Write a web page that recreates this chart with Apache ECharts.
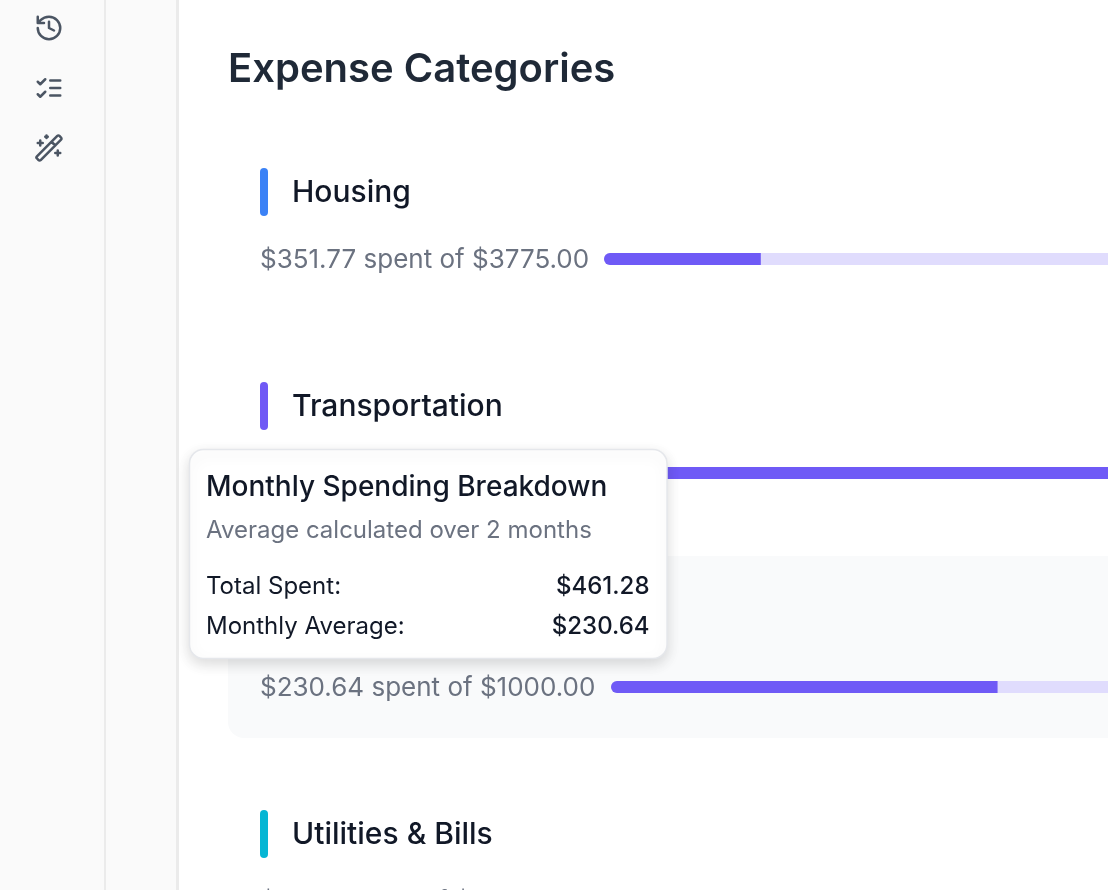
<!DOCTYPE html>
<html><head><meta charset="utf-8">
<style>html,body{margin:0;padding:0;background:#fff}#c{width:1108px;height:890px}</style>
<script src="https://cdn.jsdelivr.net/npm/echarts@6/dist/echarts.min.js"></script>
</head><body><div id="c"></div>
<script>
const pageTitle = 'Expense Categories';
const categories = ['Housing', 'Transportation', 'Food & Dining'];
const spent = [351.77, 1240.0, 230.64];
const budget = [3775.0, 1500.0, 1000.0];
const captions = ['$351.77 spent of $3775.00', '$230.64 spent of $1000.00'];
const lastCategory = 'Utilities & Bills';
const lastCaption = '$111.17 spent of $500.00';
const tipTitle = 'Monthly Spending Breakdown';
const tipSub = 'Average calculated over 2 months';
const tipRows = [['Total Spent:', '$461.28'], ['Monthly Average:', '$230.64']];

const FILL = '#6f5af6', TRACK = '#e0dcfd', INK = '#111827', GREY = '#6b7280';
const barLeft = [604, 608, 611], barMid = [259, 473, 687], trackEnd = 2287;

const icons = {
  iconHistory: 'M3 12a9 9 0 1 0 9-9 9.75 9.75 0 0 0-6.74 2.74L3 8M3 3v5h5M12 7v5l4 2',
  iconList: 'm3 17 2 2 4-4m-6-8 2 2 4-4M13 6h8M13 12h8M13 18h8',
  iconWand: 'm21.64 3.64-1.28-1.28a1.21 1.21 0 0 0-1.72 0L2.36 18.64a1.21 1.21 0 0 0 0 1.72l1.28 1.28a1.2 1.2 0 0 0 1.72 0L21.64 5.36a1.2 1.2 0 0 0 0-1.72M14 7l3 3M5 6v4M19 14v4M10 2v2M7 8H3M21 16h-4M11 3H9'
};
Object.keys(icons).forEach(k => echarts.graphic.registerShape(k, echarts.graphic.extendPath(icons[k])));
const iconEl = (type, cy) => ({type, x: 34, y: cy - 15, scaleX: 1.25, scaleY: 1.25, z: 5, silent: true,
  style: {fill: 'none', stroke: '#4b5563', lineWidth: 2, lineCap: 'round', lineJoin: 'round'}});
const text = (t, x, y, font, fill, z, align) => ({type: 'text', x, y, z: z || 5, silent: true,
  style: {text: t, font: font + ' Inter', fill, textAlign: align || 'left', textVerticalAlign: 'middle'}});
const rect = (x, y, width, height, fill, r, z, extra) => ({type: 'rect', z: z || 0, silent: true,
  shape: {x, y, width, height, r: r || 0}, style: Object.assign({fill}, extra || {})});

const accent = (y, color) => rect(260, y, 8, 48, color, 4, 5);

const graphics = [
  rect(0, 0, 176, 890, '#fafafa'),
  rect(104, 0, 2, 890, '#ebebeb', 0, 1),
  rect(176, 0, 3, 890, '#ebebeb', 0, 1),
  iconEl('iconHistory', 28), iconEl('iconList', 88), iconEl('iconWand', 148),
  text(pageTitle, 228, 70, '600 40px', '#1f2937'),
  accent(168, '#3b82f6'), text(categories[0], 292, 193, '500 30px', INK),
  text(captions[0], 260, 260, '400 26px', GREY),
  accent(382, '#7059f5'), text(categories[1], 292, 407, '500 30px', INK),
  rect(228, 556, 900, 182, '#f9fafb', 16),
  text(captions[1], 260, 688, '400 26px', GREY),
  accent(810, '#06b6d4'), text(lastCategory, 292, 835, '500 30px', INK),
  text(lastCaption, 260, 902, '400 26px', GREY),
  rect(189.5, 449.5, 477.5, 209, '#ffffff', 14, 20, {stroke: '#e5e7eb', lineWidth: 1.5, shadowBlur: 14, shadowOffsetY: 5, shadowColor: 'rgba(0,0,0,0.14)'}),
  text(tipTitle, 206, 488, '500 28px', INK, 21),
  text(tipSub, 206, 531, '400 24px', GREY, 21),
  text(tipRows[0][0], 206, 587, '400 24px', INK, 21),
  text(tipRows[1][0], 206, 627, '400 24px', INK, 21),
  text(tipRows[0][1], 649.5, 587, '500 24px', INK, 21, 'right'),
  text(tipRows[1][1], 649.5, 627, '500 24px', INK, 21, 'right')
];

const grid = [], xAxis = [], yAxis = [], series = [];
categories.forEach((name, i) => {
  grid.push({left: barLeft[i], top: barMid[i] - 6, width: trackEnd - barLeft[i], height: 12, containLabel: false, outerBoundsMode: 'none'});
  xAxis.push({gridIndex: i, type: 'value', min: 0, max: budget[i], show: false});
  yAxis.push({gridIndex: i, type: 'category', data: [name], show: false});
  series.push({type: 'bar', xAxisIndex: i, yAxisIndex: i, data: [budget[i]], barWidth: 12, silent: true, z: 2,
    itemStyle: {color: TRACK, borderRadius: 6}, animation: false});
  series.push({type: 'bar', xAxisIndex: i, yAxisIndex: i, data: [spent[i]], barWidth: 12, barGap: '-100%', silent: true, z: 3,
    itemStyle: {color: FILL, borderRadius: [6, 0, 0, 6]}, animation: false});
});

const chart = echarts.init(document.getElementById('c'), null, {renderer: 'canvas'});
chart.setOption({animation: false, backgroundColor: '#ffffff', tooltip: {show: false}, grid, xAxis, yAxis, series, graphic: {elements: graphics}});
</script></body></html>
